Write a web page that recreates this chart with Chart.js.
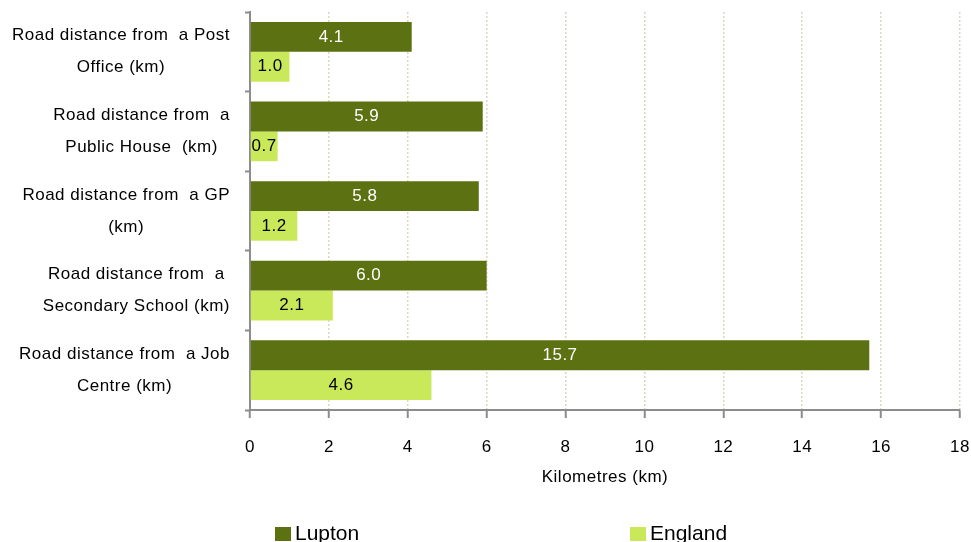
<!DOCTYPE html>
<html>
<head>
<meta charset="utf-8">
<script src="https://cdn.jsdelivr.net/npm/chart.js@4/dist/chart.umd.min.js"></script>
<style>
  html, body { margin: 0; padding: 0; background: #fff; overflow: hidden; }
  .wrap { position: relative; width: 971px; height: 542px; }
  #legend { position: absolute; left: 0; top: 0; width: 971px; height: 542px; pointer-events: none; }
  .item { position: absolute; top: 521px; font: 21px "Liberation Sans", Arial, sans-serif; color: #000; white-space: nowrap; }
  .item span.box { display: inline-block; width: 16px; height: 14px; margin-right: 4px; vertical-align: -1px; }
</style>
</head>
<body>
<div class="wrap">
  <canvas id="myChart" width="971" height="542"></canvas>
  <div id="legend"></div>
</div>
<script>
// chart data
const categories = [
  ["Road distance from  a Post", "Office (km)"],
  ["Road distance from  a", "Public House  (km)"],
  ["Road distance from  a GP", "(km)"],
  ["Road distance from  a", "Secondary School (km)"],
  ["Road distance from  a Job", "Centre (km)"]
];
const luptonValues = [4.1, 5.9, 5.8, 6.0, 15.7];
const englandValues = [1.0, 0.7, 1.2, 2.1, 4.6];
const xTicks = [0, 2, 4, 6, 8, 10, 12, 14, 16, 18];

const fontFamily = '"Liberation Sans", Arial, sans-serif';

// slightly wider letter spacing, like the original rendering
const spacing = {
  id: "spacing",
  beforeDraw(chart) {
    chart.ctx.letterSpacing = "0.5px";
  }
};

// draws the values in the middle of each bar
const barLabels = {
  id: "barLabels",
  afterDatasetsDraw(chart) {
    const ctx = chart.ctx;
    ctx.save();
    ctx.font = "17px " + fontFamily;
    ctx.textAlign = "center";
    ctx.textBaseline = "middle";
    chart.data.datasets.forEach((ds, i) => {
      const meta = chart.getDatasetMeta(i);
      meta.data.forEach((bar, k) => {
        const p = bar.getProps(["x", "y", "base"], true);
        ctx.fillStyle = i === 0 ? "#ffffff" : "#000000";
        ctx.fillText(ds.data[k].toFixed(1), (p.x + p.base) / 2, p.y);
      });
    });
    ctx.restore();
  }
};

// category labels: lines centred in a block that ends near the axis
const categoryLabels = {
  id: "categoryLabels",
  afterDraw(chart) {
    const ctx = chart.ctx;
    const yScale = chart.scales.y;
    const right = yScale.right - 20;
    ctx.save();
    ctx.font = "17px " + fontFamily;
    ctx.fillStyle = "#000";
    ctx.textAlign = "center";
    ctx.textBaseline = "middle";
    categories.forEach((lines, k) => {
      const widest = Math.max(...lines.map((l) => ctx.measureText(l).width));
      const cx = right - widest / 2;
      const cy = yScale.getPixelForValue(k);
      const lh = 32;
      lines.forEach((line, j) => {
        ctx.fillText(line, cx, cy + (j - (lines.length - 1) / 2) * lh);
      });
    });
    ctx.restore();
  }
};

const data = {
  labels: categories,
  datasets: [
    {
      label: "Lupton",
      data: luptonValues,
      backgroundColor: "#5c7111",
      categoryPercentage: 0.75,
      barPercentage: 1.0
    },
    {
      label: "England",
      data: englandValues,
      backgroundColor: "#c9e95b",
      categoryPercentage: 0.75,
      barPercentage: 1.0
    }
  ]
};

const config = {
  type: "bar",
  data: data,
  options: {
    indexAxis: "y",
    responsive: false,
    animation: false,
    layout: { padding: { top: 12, right: 0, bottom: 52, left: 0 } },
    plugins: {
      legend: { display: false },
      tooltip: { enabled: false }
    },
    scales: {
      x: {
        min: 0,
        max: 18,
        afterBuildTicks: (scale) => {
          scale.ticks = xTicks.map((v) => ({ value: v }));
        },
        afterFit: (scale) => {
          scale.height = 80;
          scale.paddingRight = 11;
        },
        grid: {
          color: "#ddd5bd",
          lineWidth: 1.5,
          tickColor: "#8c8c8c",
          tickLength: 8,
          tickWidth: 2,
          tickBorderDash: []
        },
        border: { color: "#8c8c8c", width: 2, dash: [2, 2] },
        ticks: {
          padding: 19,
          color: "#000",
          font: { family: fontFamily, size: 17 }
        },
        title: {
          display: true,
          text: "Kilometres (km)",
          color: "#000",
          font: { family: fontFamily, size: 17 },
          padding: { top: 10, bottom: 2 }
        }
      },
      y: {
        afterFit: (scale) => {
          scale.width = 250;
        },
        grid: {
          drawOnChartArea: false,
          offset: true,
          tickLength: 5,
          tickWidth: 2,
          color: "#8c8c8c"
        },
        border: { color: "#8c8c8c", width: 2 },
        ticks: { display: false }
      }
    }
  },
  plugins: [spacing, barLabels, categoryLabels]
};

const myChart = new Chart(document.getElementById("myChart"), config);

// html legend below the chart
const legendEl = document.getElementById("legend");
const legendLeft = [275, 630];
myChart.data.datasets.forEach((ds, i) => {
  const item = document.createElement("div");
  item.className = "item";
  item.style.left = legendLeft[i] + "px";
  item.innerHTML = `<span class="box" style="background:${ds.backgroundColor}"></span>${ds.label}`;
  legendEl.appendChild(item);
});
</script>
</body>
</html>
